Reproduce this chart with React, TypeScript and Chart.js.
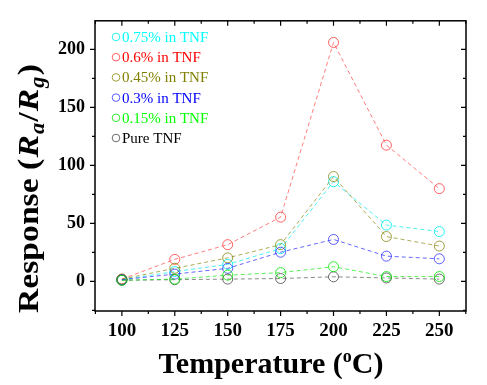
import React, { useEffect, useRef } from "react";
import { Chart, registerables } from "chart.js";

Chart.register(...registerables);

const temperatures = [100, 125, 150, 175, 200, 225, 250];
const seriesLabels = ["0.75% in TNF", "0.6% in TNF", "0.45% in TNF", "0.3% in TNF", "0.15% in TNF", "Pure TNF"];
const s075 = [1.5, 8.5, 14.7, 28.3, 86, 48.6, 43];
const s06 = [2, 19, 31.7, 55.4, 206, 117.5, 80];
const s045 = [2, 11.3, 20.3, 31.7, 90.4, 38.7, 30.5];
const s03 = [1.5, 6.3, 11.3, 25.2, 36.2, 21.8, 19.5];
const s015 = [1, 2, 5.4, 7.6, 12.7, 4.2, 4.2];
const sPure = [1, 1.5, 2, 2.5, 4, 3, 2];
const xTicks = [100, 125, 150, 175, 200, 225, 250];
const yTicks = [0, 50, 100, 150, 200];

const lineColors = ["rgba(0,235,235,0.7)", "rgba(255,40,40,0.6)", "rgba(128,128,0,0.65)", "rgba(0,0,255,0.6)", "rgba(0,230,0,0.65)", "rgba(60,60,60,0.6)"];
const pointColors = ["rgba(0,240,240,0.85)", "rgba(255,60,60,0.8)", "rgba(128,128,0,0.75)", "rgba(40,40,255,0.75)", "rgba(0,230,0,0.8)", "rgba(60,60,60,0.75)"];
const textColors = ["#00ffff", "#ff0000", "#808000", "#0000ff", "#00ff00", "#000000"];

const SERIF = "'Liberation Serif', 'Times New Roman', serif";

const decorPlugin = {
  id: "decor",
  afterDraw(chart: any) {
    const ctx = chart.ctx as CanvasRenderingContext2D;
    const { left, right, top, bottom } = chart.chartArea;
    const xs = chart.scales.x;
    const ys = chart.scales.y;
    ctx.save();
    ctx.strokeStyle = "#000";
    ctx.lineWidth = 1.5;
    ctx.strokeRect(left, top, right - left, bottom - top);
    ctx.lineWidth = 1.2;
    ctx.beginPath();
    const maj = 5, mnr = 3;
    for (let v = 87.5; v <= 262.6; v += 12.5) {
      if (v < xs.min || v > xs.max) continue;
      const px = xs.getPixelForValue(v);
      const isMaj = Math.abs((v - 100) % 25) < 0.01;
      const L = isMaj ? maj : mnr;
      ctx.moveTo(px, bottom); ctx.lineTo(px, bottom + L);
      ctx.moveTo(px, top); ctx.lineTo(px, top + L);
    }
    for (let v = -25; v <= 225; v += 25) {
      if (v < ys.min || v > ys.max) continue;
      const py = ys.getPixelForValue(v);
      const isMaj = v % 50 === 0;
      const L = isMaj ? maj : mnr;
      ctx.moveTo(left, py); ctx.lineTo(left - L, py);
      ctx.moveTo(right, py); ctx.lineTo(right - L, py);
    }
    ctx.stroke();

    // legend
    ctx.font = `15px ${SERIF}`;
    ctx.textBaseline = "middle";
    ctx.textAlign = "left";
    chart.data.datasets.forEach((ds: any, i: number) => {
      const y = 37 + i * 20.2;
      ctx.beginPath();
      ctx.lineWidth = 1;
      ctx.strokeStyle = pointColors[i];
      ctx.arc(116, y, 3.8, 0, Math.PI * 2);
      ctx.stroke();
      ctx.fillStyle = textColors[i];
      ctx.fillText(ds.label, 122, y + 1);
    });

    // x title
    ctx.fillStyle = "#000";
    ctx.textBaseline = "alphabetic";
    const F = 30;
    const partsX: [string, string, number, number][] = [
      ["Temperature (", `bold ${F}px ${SERIF}`, 0, 0],
      ["o", `bold ${Math.round(F * 0.6)}px ${SERIF}`, -F * 0.38, 0],
      ["C)", `bold ${F}px ${SERIF}`, 0, 0],
    ];
    let wx = 0;
    partsX.forEach((p) => { ctx.font = p[1]; wx += ctx.measureText(p[0]).width; });
    let cx = 271 - wx / 2;
    partsX.forEach((p) => { ctx.font = p[1]; ctx.fillText(p[0], cx, 373 + p[2]); cx += ctx.measureText(p[0]).width; });

    // y title
    const partsY: [string, string, number][] = [
      ["Response (", `bold ${F}px ${SERIF}`, 0],
      ["R", `italic bold ${F}px ${SERIF}`, 0],
      ["a", `italic bold ${Math.round(F * 0.65)}px ${SERIF}`, F * 0.2],
      ["/", `bold ${F}px ${SERIF}`, 0],
      ["R", `italic bold ${F}px ${SERIF}`, 0],
      ["g", `italic bold ${Math.round(F * 0.65)}px ${SERIF}`, F * 0.2],
      [")", `bold ${F}px ${SERIF}`, 0],
    ];
    let wy = 0;
    partsY.forEach((p) => { ctx.font = p[1]; wy += ctx.measureText(p[0]).width + 1; });
    const target = 250;
    const sx = target / wy;
    ctx.save();
    ctx.translate(38, 188);
    ctx.rotate(-Math.PI / 2);
    ctx.scale(sx, 1);
    let cy = -wy / 2;
    partsY.forEach((p) => { ctx.font = p[1]; ctx.fillText(p[0], cy, p[2]); cy += ctx.measureText(p[0]).width + 1; });
    ctx.restore();
    ctx.restore();
  },
};

export default function App() {
  const ref = useRef<HTMLCanvasElement | null>(null);
  useEffect(() => {
    document.body.style.margin = "0";
    const all = [s075, s06, s045, s03, s015, sPure];
    const order = [5, 4, 3, 2, 0, 1];
    const chart = new Chart(ref.current!, {
      type: "line",
      data: {
        datasets: all.map((vals, i) => ({
          label: seriesLabels[i],
          data: temperatures.map((t, j) => ({ x: t, y: vals[j] })),
          borderColor: lineColors[i],
          borderWidth: 1,
          borderDash: [4, 3],
          pointRadius: 5,
          pointBorderWidth: 1,
          pointBorderColor: pointColors[i],
          pointBackgroundColor: "rgba(0,0,0,0)",
          fill: false,
          tension: 0,
          order: order[i],
        })),
      },
      options: {
        animation: false,
        responsive: false,
        layout: { padding: { top: 13, right: 21, left: 0, bottom: 0 } },
        plugins: { legend: { display: false }, tooltip: { enabled: false } },
        scales: {
          x: {
            type: "linear",
            min: 87.3,
            max: 262.6,
            grid: { display: false, drawTicks: false },
            border: { display: false },
            afterBuildTicks: (s: any) => { s.ticks = xTicks.map((v) => ({ value: v })); },
            afterFit: (s: any) => { s.height = 74; },
            ticks: { color: "#000", font: { family: SERIF, size: 19, weight: "bold" }, padding: 9, maxRotation: 0, autoSkip: false },
          },
          y: {
            type: "linear",
            min: -25.5,
            max: 224.7,
            grid: { display: false, drawTicks: false },
            border: { display: false },
            afterBuildTicks: (s: any) => { s.ticks = yTicks.map((v) => ({ value: v })); },
            afterFit: (s: any) => { s.width = 95; },
            ticks: { color: "#000", font: { family: SERIF, size: 18, weight: "bold" }, padding: 10, autoSkip: false },
          },
        },
      } as any,
      plugins: [decorPlugin],
    });
    return () => chart.destroy();
  }, []);
  return (
    <div style={{ width: 487, height: 385 }}>
      <canvas ref={ref} width={487} height={385} style={{ width: 487, height: 385, display: "block" }} />
    </div>
  );
}
